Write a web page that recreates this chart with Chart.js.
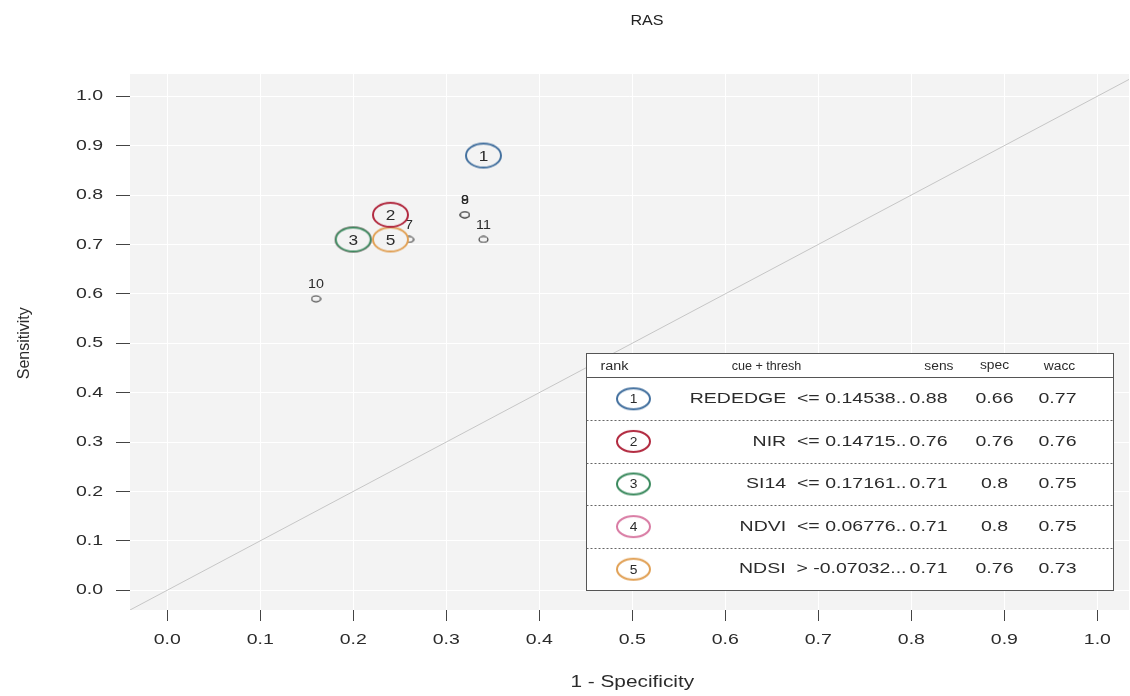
<!DOCTYPE html>
<html>
<head>
<meta charset="utf-8">
<script src="https://cdn.jsdelivr.net/npm/chart.js@4.4.0/dist/chart.umd.min.js"></script>
<style>
    html, body { margin: 0; padding: 0; background: #fff; overflow: hidden; }
</style>
</head>
<body>
<canvas id="roc" width="1130" height="696"></canvas>
<script>
// ranked cues (big circles + table)
const rankNum = [1, 2, 3, 4, 5]
const rankFar = [0.34, 0.24, 0.20, 0.20, 0.24]      // 1 - specificity
const rankSens = [0.88, 0.76, 0.71, 0.71, 0.71]
const rankColors = ['#44719f', '#b22a40', '#3b8a5e', '#d97ca4', '#e1a156']
const cueLabels = ['REDEDGE  <= 0.14538..', 'NIR  <= 0.14715..', 'SI14  <= 0.17161..', 'NDVI  <= 0.06776..', 'NDSI  > -0.07032...']
const sensText = ['0.88', '0.76', '0.71', '0.71', '0.71']
const specText = ['0.66', '0.76', '0.8', '0.8', '0.76']
const waccText = ['0.77', '0.76', '0.75', '0.75', '0.73']
const headers = ['rank', 'cue + thresh', 'sens', 'spec', 'wacc']

// the other cues (small circles)
const otherNum = [6, 7, 8, 9, 10, 11]
const otherFar = [0.24, 0.26, 0.32, 0.32, 0.16, 0.34]
const otherSens = [0.71, 0.71, 0.76, 0.76, 0.59, 0.71]

const diagVals = [-0.04, 1.04]
const tickVals = [0, 0.1, 0.2, 0.3, 0.4, 0.5, 0.6, 0.7, 0.8, 0.9, 1.0]

const FONT = '"Liberation Sans", Arial, sans-serif'
const PANEL = '#f3f3f3'
const INK = '#2b2b2b'
Chart.defaults.font.family = FONT

const ellipse = (w, h, color, lw, fill) => {
    const c = document.createElement('canvas')
    c.width = w + lw * 2
    c.height = h + lw * 2
    const g = c.getContext('2d')
    g.beginPath()
    g.ellipse(c.width / 2, c.height / 2, w / 2, h / 2, 0, 0, Math.PI * 2)
    g.fillStyle = fill
    g.fill()
    g.strokeStyle = color
    g.lineWidth = lw
    g.stroke()
    return c
}

const bigMarks = rankColors.map(c => ellipse(35, 24, c, 2, PANEL))
const tableMarks = rankColors.map(c => ellipse(33, 21, c, 2, '#fff'))
const smallMark = ellipse(9, 6, '#333', 1.1, PANEL)

// text drawn a bit wider than the font, like the stretched original
const wideText = (ctx, text, x, y, align, sx) => {
    const w = ctx.measureText(text).width * sx
    const left = align === 'right' ? x - w : align === 'center' ? x - w / 2 : x
    ctx.save()
    ctx.translate(left, y)
    ctx.scale(sx, 1)
    ctx.textAlign = 'left'
    ctx.fillText(text, 0, 0)
    ctx.restore()
}

const panelBg = {
    id: 'panelBg',
    beforeDraw(chart) {
        const a = chart.chartArea
        chart.ctx.save()
        chart.ctx.fillStyle = PANEL
        chart.ctx.fillRect(a.left, a.top, a.right - a.left, a.bottom - a.top)
        chart.ctx.restore()
    }
}

const markLabels = {
    id: 'markLabels',
    afterDatasetDraw(chart, args) {
        const ds = chart.data.datasets[args.index]
        const ctx = chart.ctx
        ctx.save()
        ctx.fillStyle = INK
        ctx.textBaseline = 'middle'
        if (ds.label === 'other') {
            ctx.font = '13px ' + FONT
            args.meta.data.forEach((pt, i) => wideText(ctx, String(ds.data[i].n), pt.x, pt.y - 14, 'center', 1.1))
        } else if (ds.label.startsWith('rank')) {
            ctx.font = '15px ' + FONT
            args.meta.data.forEach((pt, i) => wideText(ctx, String(ds.data[i].n), pt.x, pt.y + 1, 'center', 1.15))
        }
        ctx.restore()
    }
}

// tick labels, axis titles and main title, drawn from the scales
const axisText = {
    id: 'axisText',
    afterDraw(chart) {
        const {ctx, scales: {x, y}} = chart
        ctx.save()
        ctx.fillStyle = INK
        ctx.textBaseline = 'middle'
        ctx.font = '15px ' + FONT
        x.ticks.forEach(t => wideText(ctx, t.value.toFixed(1), x.getPixelForValue(t.value), 640, 'center', 1.3))
        y.ticks.forEach(t => wideText(ctx, t.value.toFixed(1), 103, y.getPixelForValue(t.value), 'right', 1.3))

        ctx.font = '16px ' + FONT
        wideText(ctx, '1 - Specificity', x.getPixelForValue(0.5), 683, 'center', 1.3)

        ctx.save()
        ctx.translate(25, y.getPixelForValue(0.5))
        ctx.rotate(-Math.PI / 2)
        ctx.font = '16px ' + FONT
        ctx.textAlign = 'center'
        ctx.fillText('Sensitivity', 0, 0)
        ctx.restore()

        ctx.font = '14px ' + FONT
        ctx.fillStyle = '#222'
        wideText(ctx, 'RAS', 647, 21, 'center', 1.15)
        ctx.restore()
    }
}

const cueTable = {
    id: 'cueTable',
    afterDraw(chart) {
        const {ctx, scales: {x, y}} = chart
        const L = Math.round(x.getPixelForValue(0.45)) + 0.5
        const R = Math.round(x.getPixelForValue(1.017)) + 0.5
        const T = Math.round(y.getPixelForValue(0.48)) + 0.5
        const B = Math.round(y.getPixelForValue(0)) + 0.5
        const W = R - L
        const headB = T + 24
        const rowH = (B - headB) / rankNum.length
        const colRank = L + 47, colCue = L + 320, colSens = L + 361, colSpec = L + 408, colWacc = L + 471

        ctx.save()
        ctx.fillStyle = '#fff'
        ctx.fillRect(L, T, W, B - T)
        ctx.strokeStyle = '#555'
        ctx.lineWidth = 1
        ctx.strokeRect(L, T, W, B - T)
        ctx.beginPath()
        ctx.moveTo(L, headB)
        ctx.lineTo(R, headB)
        ctx.stroke()

        ctx.fillStyle = INK
        ctx.textBaseline = 'middle'
        ctx.font = '12px ' + FONT
        const hy = T + 13
        wideText(ctx, headers[0], L + 28, hy, 'center', 1.2)
        wideText(ctx, headers[1], L + 180, hy, 'center', 1.05)
        wideText(ctx, headers[2], colSens + 6, hy, 'right', 1.15)
        wideText(ctx, headers[3], colSpec, hy - 1, 'center', 1.15)
        wideText(ctx, headers[4], colWacc + 2, hy, 'center', 1.15)

        ctx.setLineDash([2, 2])
        ctx.strokeStyle = '#666'
        for (let i = 1; i < rankNum.length; i++) {
            const ly = Math.round(headB + rowH * i) + 0.5
            ctx.beginPath()
            ctx.moveTo(L, ly)
            ctx.lineTo(R, ly)
            ctx.stroke()
        }
        ctx.setLineDash([])

        rankNum.forEach((n, i) => {
            const cy = headB + rowH * (i + 0.5)
            const m = tableMarks[i]
            ctx.drawImage(m, colRank - m.width / 2, cy - m.height / 2)
            ctx.font = '12px ' + FONT
            wideText(ctx, String(n), colRank, cy + 1, 'center', 1.15)
            ctx.font = '15px ' + FONT
            wideText(ctx, cueLabels[i], colCue, cy, 'right', 1.3)
            wideText(ctx, sensText[i], colSens, cy, 'right', 1.3)
            wideText(ctx, specText[i], colSpec, cy, 'center', 1.3)
            wideText(ctx, waccText[i], colWacc, cy, 'center', 1.3)
        })
        ctx.restore()
    }
}

const axisTicks = s => { s.ticks = tickVals.map(v => ({value: v})) }

// one dataset per ranked cue so each number stays with its own circle
const rankSets = rankNum.map((n, i) => ({
    label: 'rank' + n,
    data: [{x: rankFar[i], y: rankSens[i], n: n}],
    pointStyle: bigMarks[i],
    pointRadius: 12,
    order: n / 10
}))

new Chart(document.getElementById('roc'), {
    type: 'scatter',
    data: {
        datasets: [
            {
                label: 'diag',
                data: diagVals.map(v => ({x: v, y: v})),
                showLine: true,
                borderColor: '#c6c6c6',
                borderWidth: 1,
                pointRadius: 0,
                order: 3
            },
            {
                label: 'other',
                data: otherNum.map((n, i) => ({x: otherFar[i], y: otherSens[i], n: n})),
                pointStyle: smallMark,
                pointRadius: 4,
                order: 2
            },
            ...rankSets
        ]
    },
    options: {
        responsive: false,
        animation: false,
        layout: {autoPadding: false, padding: {top: 74, right: 1, left: 0, bottom: 0}},
        plugins: {
            legend: {display: false},
            tooltip: {enabled: false},
            title: {display: false}
        },
        scales: {
            x: {
                type: 'linear',
                min: -0.04,
                max: 1.034,
                afterBuildTicks: axisTicks,
                afterFit: s => { s.height = 86; s.paddingLeft = 0; s.paddingRight = 0 },
                border: {display: false},
                grid: {color: '#ffffff', lineWidth: 1, tickColor: '#444', tickLength: 11, tickWidth: 1},
                ticks: {display: false}
            },
            y: {
                type: 'linear',
                min: -0.04,
                max: 1.045,
                afterBuildTicks: axisTicks,
                afterFit: s => { s.width = 130; s.paddingTop = 0; s.paddingBottom = 0 },
                border: {display: false},
                grid: {color: '#ffffff', lineWidth: 1, tickColor: '#444', tickLength: 14, tickWidth: 1},
                ticks: {display: false}
            }
        }
    },
    plugins: [panelBg, markLabels, axisText, cueTable]
})
</script>
</body>
</html>
